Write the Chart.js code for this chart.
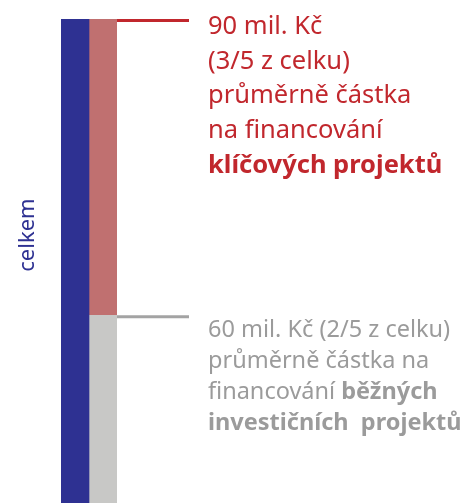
<!DOCTYPE html>
<html>
<head>
<meta charset="utf-8">
<script src="https://cdn.jsdelivr.net/npm/chart.js@4"></script>
<style>
  html, body { margin: 0; padding: 0; background: #fff; }
  #wrap { width: 464px; height: 503px; }
</style>
</head>
<body>
<div id="wrap"><canvas id="chart"></canvas></div>
<script>
// data
const categories = ["celkem", "části"];
const celkem = [150, null];
const klicove = [null, 90];
const bezne = [null, 60];

const labelKlicove = [
  [["90 mil. Kč", false]],
  [["(3/5 z celku)", false]],
  [["průměrně částka", false]],
  [["na financování", false]],
  [["klíčových projektů", true]]
];
const labelBezne = [
  [["60 mil. Kč (2/5 z celku)", false]],
  [["průměrně částka na", false]],
  [["financování ", false], ["běžných", true]],
  [["investičních  projektů", true]]
];

const FONT = "'Noto Sans', sans-serif";

function drawRuns(ctx, lines, x, y, lh, size, color) {
  ctx.fillStyle = color;
  ctx.textBaseline = "alphabetic";
  ctx.textAlign = "left";
  lines.forEach((runs, i) => {
    let cx = x;
    runs.forEach(([txt, bold]) => {
      ctx.font = (bold ? "bold " : "") + size + "px " + FONT;
      ctx.fillText(txt, cx, y + i * lh);
      cx += ctx.measureText(txt).width;
    });
  });
}

// callouts + rotated label
const annotations = {
  id: "annotations",
  afterDatasetsDraw(chart) {
    const ctx = chart.ctx;
    const bezBar = chart.getDatasetMeta(1).data[1];
    const kliBar = chart.getDatasetMeta(2).data[1];
    const x0 = kliBar.x + kliBar.width / 2;
    const x1 = 189;
    ctx.save();
    ctx.lineWidth = 3;
    ctx.strokeStyle = "#c1272d";
    ctx.beginPath();
    ctx.moveTo(x0, kliBar.y + 1.5);
    ctx.lineTo(x1, kliBar.y + 1.5);
    ctx.stroke();
    ctx.strokeStyle = "#a3a3a3";
    ctx.beginPath();
    ctx.moveTo(x0, bezBar.y + 1.5);
    ctx.lineTo(x1, bezBar.y + 1.5);
    ctx.stroke();

    drawRuns(ctx, labelKlicove, 208, kliBar.y + 15, 34.7, 25.5, "#c1272d");
    drawRuns(ctx, labelBezne, 208, bezBar.y + 22, 31, 23.5, "#9b9b9b");

    ctx.translate(34, 235);
    ctx.rotate(-Math.PI / 2);
    ctx.font = "22px " + FONT;
    ctx.fillStyle = "#2e3192";
    ctx.textAlign = "center";
    ctx.fillText(categories[0], 0, 0);
    ctx.restore();
  }
};

new Chart(document.getElementById("chart"), {
  type: "bar",
  data: {
    labels: categories,
    datasets: [
      { label: "celkem", data: celkem, backgroundColor: "#2e3192" },
      { label: "běžné projekty", data: bezne, backgroundColor: "#c8c8c6" },
      { label: "klíčové projekty", data: klicove, backgroundColor: "#c07070" }
    ]
  },
  options: {
    responsive: true,
    maintainAspectRatio: false,
    animation: false,
    layout: { padding: { top: 19, bottom: 0, left: 61, right: 347 } },
    plugins: { legend: { display: false }, tooltip: { enabled: false } },
    datasets: { bar: { barPercentage: 1, categoryPercentage: 1, borderWidth: 0 } },
    scales: {
      x: { stacked: true, display: false },
      y: { stacked: true, display: false, min: 3, max: 150 }
    }
  },
  plugins: [annotations]
});
</script>
</body>
</html>
